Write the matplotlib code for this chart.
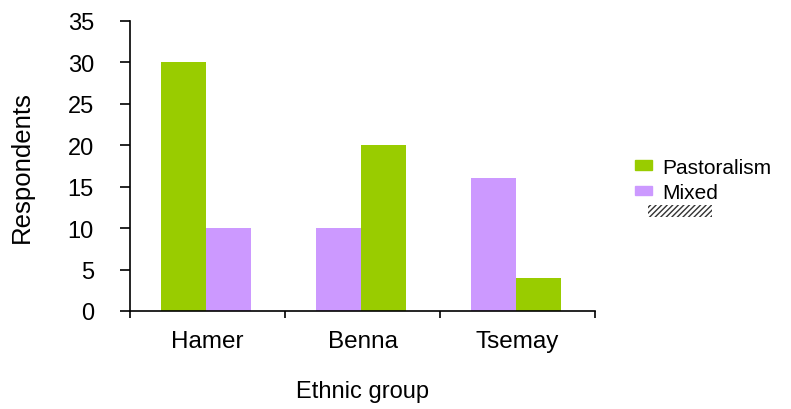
import matplotlib
matplotlib.use("Agg")
import matplotlib.pyplot as plt
from matplotlib.patches import Rectangle

groups = ["Hamer", "Benna", "Tsemay"]
pastoralism = [30, 20, 4]
mixed = [10, 10, 16]
# which series sits on the left within each group
green_first = [True, False, False]

GREEN = "#99CC00"
PURPLE = "#CC99FF"

plt.rcParams["font.family"] = ["Liberation Sans", "DejaVu Sans"]

fig = plt.figure(figsize=(7.91, 4.10), dpi=100, facecolor="white")
ax = fig.add_axes([130 / 791, 1 - 312 / 410, 465 / 791, 290 / 410])

w = 0.29
for i, (p, m, gf) in enumerate(zip(pastoralism, mixed, green_first)):
    left, right = (p, m) if gf else (m, p)
    lc, rc = (GREEN, PURPLE) if gf else (PURPLE, GREEN)
    ax.bar(i - w / 2 - 0.01, left, width=w, color=lc)
    ax.bar(i + w / 2 - 0.01, right, width=w, color=rc)

ax.set_xlim(-0.5, 2.5)
ax.set_ylim(0, 35)
ax.set_yticks(range(0, 36, 5))
ax.tick_params(axis="y", labelsize=17, length=7, width=1.2, pad=19)
ax.set_xticks([-0.5, 0.5, 1.5, 2.5])
ax.set_xticklabels([])
ax.set_xticks(range(3), minor=True)
ax.set_xticklabels(groups, minor=True, fontsize=17.5)
ax.tick_params(axis="x", which="major", length=5, width=1.2)
ax.tick_params(axis="x", which="minor", length=0, pad=14)
for s in ["top", "right"]:
    ax.spines[s].set_visible(False)
ax.spines["left"].set_linewidth(1.2)
ax.spines["bottom"].set_linewidth(1.2)

ax.set_ylabel("Respondents", fontsize=18.5, labelpad=24)
ax.set_xlabel("Ethnic group", fontsize=17, labelpad=20)

handles = [Rectangle((0, 0), 1, 1, color=GREEN), Rectangle((0, 0), 1, 1, color=PURPLE)]
fig.legend(handles, ["Pastoralism", "Mixed"], loc="upper left",
           bbox_to_anchor=(616 / 791, 1 - 140 / 410), frameon=False, fontsize=15,
           handlelength=0.82, handleheight=0.34, handletextpad=0.5, labelspacing=0.3)
fig.patches.append(Rectangle((648 / 791, 1 - 218 / 410), 64 / 791, 12 / 410,
                             transform=fig.transFigure, facecolor="white",
                             edgecolor="#333333", linewidth=0, hatch="//////"))

fig.savefig("out.png", dpi=100, facecolor="white")
